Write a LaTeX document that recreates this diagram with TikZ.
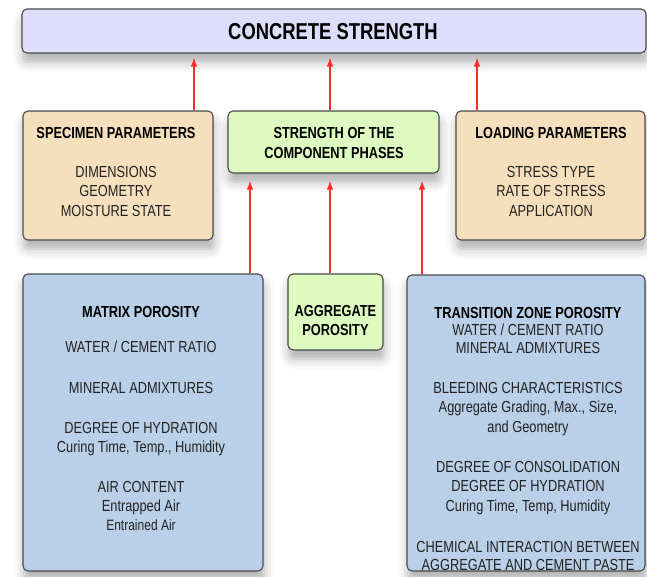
\documentclass[tikz,border=0pt]{standalone}
\usepackage{fontspec}
\setmainfont[FakeStretch=0.8]{Liberation Sans}
\usetikzlibrary{arrows.meta,shadows.blur}
\definecolor{topfill}{HTML}{DEDDFB}
\definecolor{tanfill}{HTML}{F6DFBD}
\definecolor{greenfill}{HTML}{DDFAC1}
\definecolor{bluefill}{HTML}{B9D0E8}
\definecolor{edge}{HTML}{4A4A4A}
\definecolor{arrowred}{HTML}{FF2A2A}
\definecolor{txtgray}{HTML}{222222}
\tikzset{
  box/.style={draw=edge, line width=1.1pt, rounded corners=5pt, inner sep=0pt,
    blur shadow={shadow xshift=1pt, shadow yshift=-9pt, shadow blur radius=10pt, shadow opacity=32}},
  tx/.style={anchor=base, inner sep=0pt, text=txtgray, font=\fontsize{16}{19}\selectfont},
  tb/.style={tx, text=black, font=\fontsize{16}{19}\selectfont\bfseries},
  arr/.style={draw=arrowred, line width=1.2pt, -{Latex[length=9pt,width=6.5pt]}}
}
\begin{document}
\begin{tikzpicture}[x=1pt,y=-1pt]
\useasboundingbox (0,0) rectangle (647,576);
% boxes
\node[box, fill=topfill, minimum width=624pt, minimum height=44pt] (top) at (334,31) {};
\node[box, fill=tanfill, minimum width=190pt, minimum height=129pt] (spec) at (118,175.5) {};
\node[box, fill=greenfill, minimum width=211pt, minimum height=62pt] (comp) at (333.5,142) {};
\node[box, fill=tanfill, minimum width=189pt, minimum height=129pt] (load) at (550.5,175.5) {};
\node[box, fill=bluefill, minimum width=240pt, minimum height=297pt] (matrix) at (143,422.5) {};
\node[box, fill=greenfill, minimum width=95pt, minimum height=76pt] (aggr) at (335.5,312) {};
\node[box, fill=bluefill, minimum width=238pt, minimum height=296pt] (trans) at (526,423) {};
% title
\node[tb, font=\fontsize{23}{26}\selectfont\bfseries] (ttop) at (333,39) {CONCRETE STRENGTH};
% specimen
\node[tb] (s0) at (116,138) {SPECIMEN PARAMETERS};
\node[tx] (s1) at (116,177) {DIMENSIONS};
\node[tx] (s2) at (116,196) {GEOMETRY};
\node[tx] (s3) at (116,216) {MOISTURE STATE};
% component phases
\node[tb] (c0) at (334,138) {STRENGTH OF THE};
\node[tb] (c1) at (334,158) {COMPONENT PHASES};
% loading
\node[tb] (l0) at (551,138) {LOADING PARAMETERS};
\node[tx] (l1) at (551,177) {STRESS TYPE};
\node[tx] (l2) at (551,196) {RATE OF STRESS};
\node[tx] (l3) at (551,216) {APPLICATION};
% matrix
\node[tb] (m0) at (141,317) {MATRIX POROSITY};
\node[tx] (m1) at (141,352) {WATER / CEMENT RATIO};
\node[tx] (m2) at (141,393) {MINERAL ADMIXTURES};
\node[tx] (m3) at (141,433) {DEGREE OF HYDRATION};
\node[tx] (m4) at (141,452) {Curing Time, Temp., Humidity};
\node[tx] (m5) at (141,492) {AIR CONTENT};
\node[tx] (m6) at (141,511) {Entrapped Air};
\node[tx, font=\fontsize{15}{17}\selectfont] (m7) at (141,530) {Entrained Air};
% aggregate
\node[tb] (a0) at (335.5,316) {AGGREGATE};
\node[tb] (a1) at (335.5,335) {POROSITY};
% transition
\node[tb] (z0) at (528,318) {TRANSITION ZONE POROSITY};
\node[tx] (z1) at (528,335) {WATER / CEMENT RATIO};
\node[tx] (z2) at (528,353) {MINERAL ADMIXTURES};
\node[tx] (z3) at (528,393) {BLEEDING CHARACTERISTICS};
\node[tx] (z4) at (528,412) {Aggregate Grading, Max., Size,};
\node[tx] (z5) at (528,432) {and Geometry};
\node[tx] (z6) at (528,472) {DEGREE OF CONSOLIDATION};
\node[tx] (z7) at (528,491) {DEGREE OF HYDRATION};
\node[tx] (z8) at (528,511) {Curing Time, Temp, Humidity};
\node[tx] (z9) at (528,552) {CHEMICAL INTERACTION BETWEEN};
\node[tx] (z10) at (528,570) {AGGREGATE AND CEMENT PASTE};
% arrows
\draw[arr, shorten >=4pt] (spec.north -| 194,0) -- (top.south -| 194,0);
\draw[arr, shorten >=4pt] (comp.north -| 330,0) -- (top.south -| 330,0);
\draw[arr, shorten >=4pt] (load.north -| 477,0) -- (top.south -| 477,0);
\draw[arr, shorten >=7pt] (matrix.north -| 250,0) -- (comp.south -| 250,0);
\draw[arr, shorten >=7pt] (aggr.north -| 330,0) -- (comp.south -| 330,0);
\draw[arr, shorten >=7pt] (trans.north -| 422,0) -- (comp.south -| 422,0);
\end{tikzpicture}
\end{document}
